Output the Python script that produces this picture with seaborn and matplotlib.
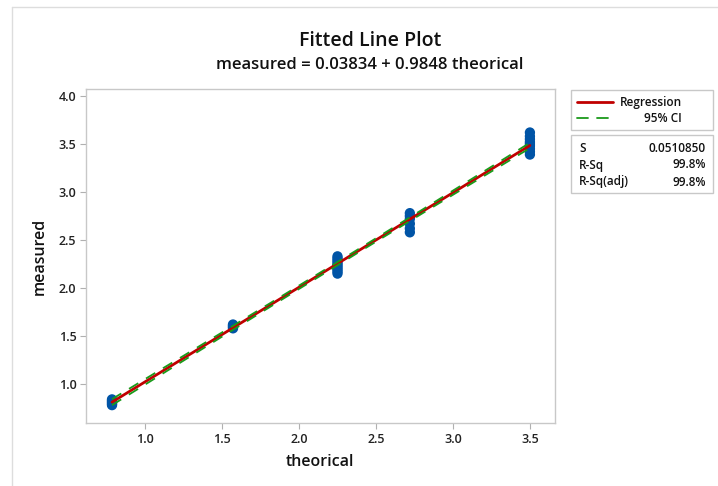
import numpy as np
import pandas as pd
import matplotlib
matplotlib.use("Agg")
import matplotlib.pyplot as plt
import seaborn as sns
from matplotlib.patches import Rectangle
from matplotlib.lines import Line2D

# ---- data ----
theo_levels = [0.785, 1.571, 2.25, 2.72, 3.5]
meas_g1 = [0.78, 0.79, 0.80, 0.81, 0.82, 0.83, 0.84]
meas_g2 = [1.58, 1.59, 1.60, 1.61, 1.62]
meas_g3 = [2.15, 2.17, 2.19, 2.21, 2.23, 2.25, 2.27, 2.29, 2.31, 2.33]
meas_g4 = [2.58, 2.62, 2.67, 2.72, 2.75, 2.78]
meas_g5 = [3.39, 3.42, 3.45, 3.48, 3.50, 3.52, 3.55, 3.58, 3.62]
groups = [meas_g1, meas_g2, meas_g3, meas_g4, meas_g5]

title_text = "Fitted Line Plot"
eq_text = "measured = 0.03834 + 0.9848 theorical"
stat_labels = ["S", "R-Sq", "R-Sq(adj)"]
stat_values = ["0.0510850", "99.8%", "99.8%"]
x_ticks = [1.0, 1.5, 2.0, 2.5, 3.0, 3.5]
y_ticks = [1.0, 1.5, 2.0, 2.5, 3.0, 3.5, 4.0]

theorical = []
measured = []
for lv, g in zip(theo_levels, groups):
    theorical += [lv] * len(g)
    measured += g
df = pd.DataFrame({"theorical": theorical, "measured": measured})

# regression fit and 95% CI of mean
b0, b1 = 0.03834, 0.9848
x = df["theorical"].to_numpy()
n = len(x)
s = 0.0510850
xbar = x.mean()
sxx = ((x - xbar) ** 2).sum()
xs = np.linspace(x.min(), x.max(), 200)
yhat = b0 + b1 * xs
tval = 2.01
half = tval * s * np.sqrt(1.0 / n + (xs - xbar) ** 2 / sxx)

sns.set_theme(style="white")
plt.rcParams["font.family"] = ["Open Sans", "DejaVu Sans"]

fig = plt.figure(figsize=(7.18, 4.86), dpi=100)
ax = fig.add_axes([86 / 718, 1 - 423 / 486, (555 - 86) / 718, (423 - 89) / 486])

sns.scatterplot(data=df, x="theorical", y="measured", ax=ax, color="#0054a6",
                s=55, edgecolor="none", zorder=3, legend=False)
sns.lineplot(x=xs, y=yhat, ax=ax, color="#c00000", lw=2, zorder=4)
sns.lineplot(x=xs, y=yhat - half, ax=ax, color="#1a9a1a", lw=1.3, zorder=5)
ax.lines[-1].set_dashes([6, 5])
sns.lineplot(x=xs, y=yhat + half, ax=ax, color="#1a9a1a", lw=1.3, zorder=5)
ax.lines[-1].set_dashes([6, 5])

ax.set_xlim(0.616, 3.663)
ax.set_ylim(0.594, 4.073)
ax.set_xticks(x_ticks)
ax.set_yticks(y_ticks)
ax.set_xticklabels([f"{t:.1f}" for t in x_ticks], fontsize=9, color="#222222",
                   fontweight="semibold")
ax.set_yticklabels([f"{t:.1f}" for t in y_ticks], fontsize=9, color="#222222",
                   fontweight="semibold")
ax.tick_params(axis="both", length=4, width=0.8, color="#b0b0b0", pad=3,
               bottom=True, left=True)
for sp in ax.spines.values():
    sp.set_color("#c8c8c8")
    sp.set_linewidth(1.0)
ax.set_xlabel("theorical", fontsize=11.5, color="#111111", labelpad=6,
              fontweight="semibold")
ax.set_ylabel("measured", fontsize=11.5, color="#111111", labelpad=8,
              fontweight="semibold")

fig.text(370 / 718, 1 - 41 / 486, title_text, ha="center", va="center",
         fontsize=14, fontweight="semibold", color="#111111")
fig.text(370 / 718, 1 - 65 / 486, eq_text, ha="center", va="center",
         fontsize=12, fontweight="semibold", color="#111111")

# figure frame
fig.add_artist(Line2D([12 / 718, 12 / 718], [0, 1 - 7 / 486], transform=fig.transFigure,
                      color="#dddddd", lw=1))
fig.add_artist(Line2D([12 / 718, 1], [1 - 7 / 486, 1 - 7 / 486], transform=fig.transFigure,
                      color="#dddddd", lw=1))

def fx(px):
    return px / 718

def fy(py):
    return 1 - py / 486

# legend box
fig.add_artist(Rectangle((fx(570.5), fy(130)), fx(712.5) - fx(570.5), fy(90) - fy(130),
                         transform=fig.transFigure, fill=False, ec="#c8c8c8", lw=1))
fig.add_artist(Line2D([fx(577), fx(613)], [fy(102), fy(102)], transform=fig.transFigure,
                      color="#c00000", lw=2))
fig.add_artist(Line2D([fx(577), fx(588)], [fy(118), fy(118)], transform=fig.transFigure,
                      color="#1a9a1a", lw=1.3))
fig.add_artist(Line2D([fx(597), fx(608)], [fy(118), fy(118)], transform=fig.transFigure,
                      color="#1a9a1a", lw=1.3))
fig.text(fx(682), fy(102), "Regression", ha="right", va="center", fontsize=8.5,
         color="#111111", fontweight="semibold")
fig.text(fx(682), fy(118), "95% CI", ha="right", va="center", fontsize=8.5,
         color="#111111", fontweight="semibold")

# stats box
fig.add_artist(Rectangle((fx(570.5), fy(193)), fx(712.5) - fx(570.5), fy(135) - fy(193),
                         transform=fig.transFigure, fill=False, ec="#c8c8c8", lw=1))
for i, (lab, val) in enumerate(zip(stat_labels, stat_values)):
    yy = fy(148 + 17 * i)
    fig.text(fx(579), yy, lab, ha="left", va="center", fontsize=8.5, color="#111111",
             fontweight="semibold")
    fig.text(fx(706), yy, val, ha="right", va="center", fontsize=8.5, color="#111111",
             fontweight="semibold")

fig.savefig("out.png", dpi=100, facecolor="white")
